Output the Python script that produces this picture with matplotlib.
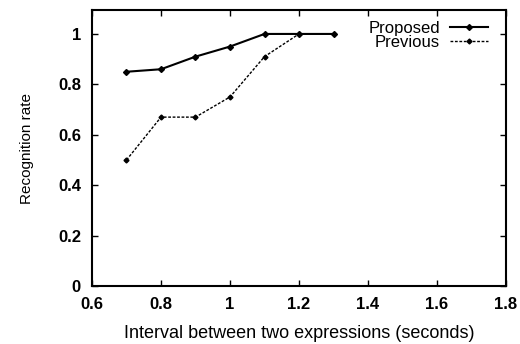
import matplotlib
matplotlib.use("Agg")
import matplotlib.pyplot as plt

plt.rcParams['font.family'] = ['Liberation Sans', 'DejaVu Sans']

x_prop = [0.7, 0.8, 0.9, 1.0, 1.1, 1.2, 1.3]
y_prop = [0.85, 0.86, 0.91, 0.95, 1.0, 1.0, 1.0]
x_prev = [0.7, 0.8, 0.9, 1.0, 1.1, 1.2]
y_prev = [0.50, 0.67, 0.67, 0.75, 0.91, 1.0]
xticks = [0.6, 0.8, 1.0, 1.2, 1.4, 1.6, 1.8]
xticklabels = ["0.6", "0.8", "1", "1.2", "1.4", "1.6", "1.8"]
yticks = [0, 0.2, 0.4, 0.6, 0.8, 1.0]
yticklabels = ["0", "0.2", "0.4", "0.6", "0.8", "1"]

fig = plt.figure(figsize=(5.2, 3.44), dpi=100)
ax = fig.add_axes([92/520, 1-286/344, (506-92)/520, (286-10)/344])

ax.plot(x_prop, y_prop, color='black', lw=1.5, marker='D', ms=3, label='Proposed')
ax.plot(x_prev, y_prev, color='black', lw=1.0, ls=(0, (2, 1.2)), marker='D', ms=2.5, label='Previous')

ax.set_xlim(0.6, 1.8)
ax.set_ylim(0, 1.095)
ax.set_xticks(xticks)
ax.set_xticklabels(xticklabels, fontsize=12, fontweight='bold')
ax.set_yticks(yticks)
ax.set_yticklabels(yticklabels, fontsize=12, fontweight='bold')
ax.tick_params(direction='in', top=True, right=True, length=4, width=1)
ax.tick_params(axis='x', pad=8)
ax.tick_params(axis='y', pad=8)
for s in ax.spines.values():
    s.set_linewidth(1.5)

ax.set_xlabel('Interval between two expressions (seconds)', fontsize=13, labelpad=9)
ax.set_ylabel('Recognition rate', fontsize=11, labelpad=17)

leg = ax.legend(loc='upper right', bbox_to_anchor=(0.973, 0.985), frameon=False,
                markerfirst=False, fontsize=12, borderaxespad=0.0,
                handlelength=2.3, handletextpad=0.6, labelspacing=-0.05)
for t in leg.get_texts():
    t.set_ha('right')

fig.savefig('out.png', dpi=100)
